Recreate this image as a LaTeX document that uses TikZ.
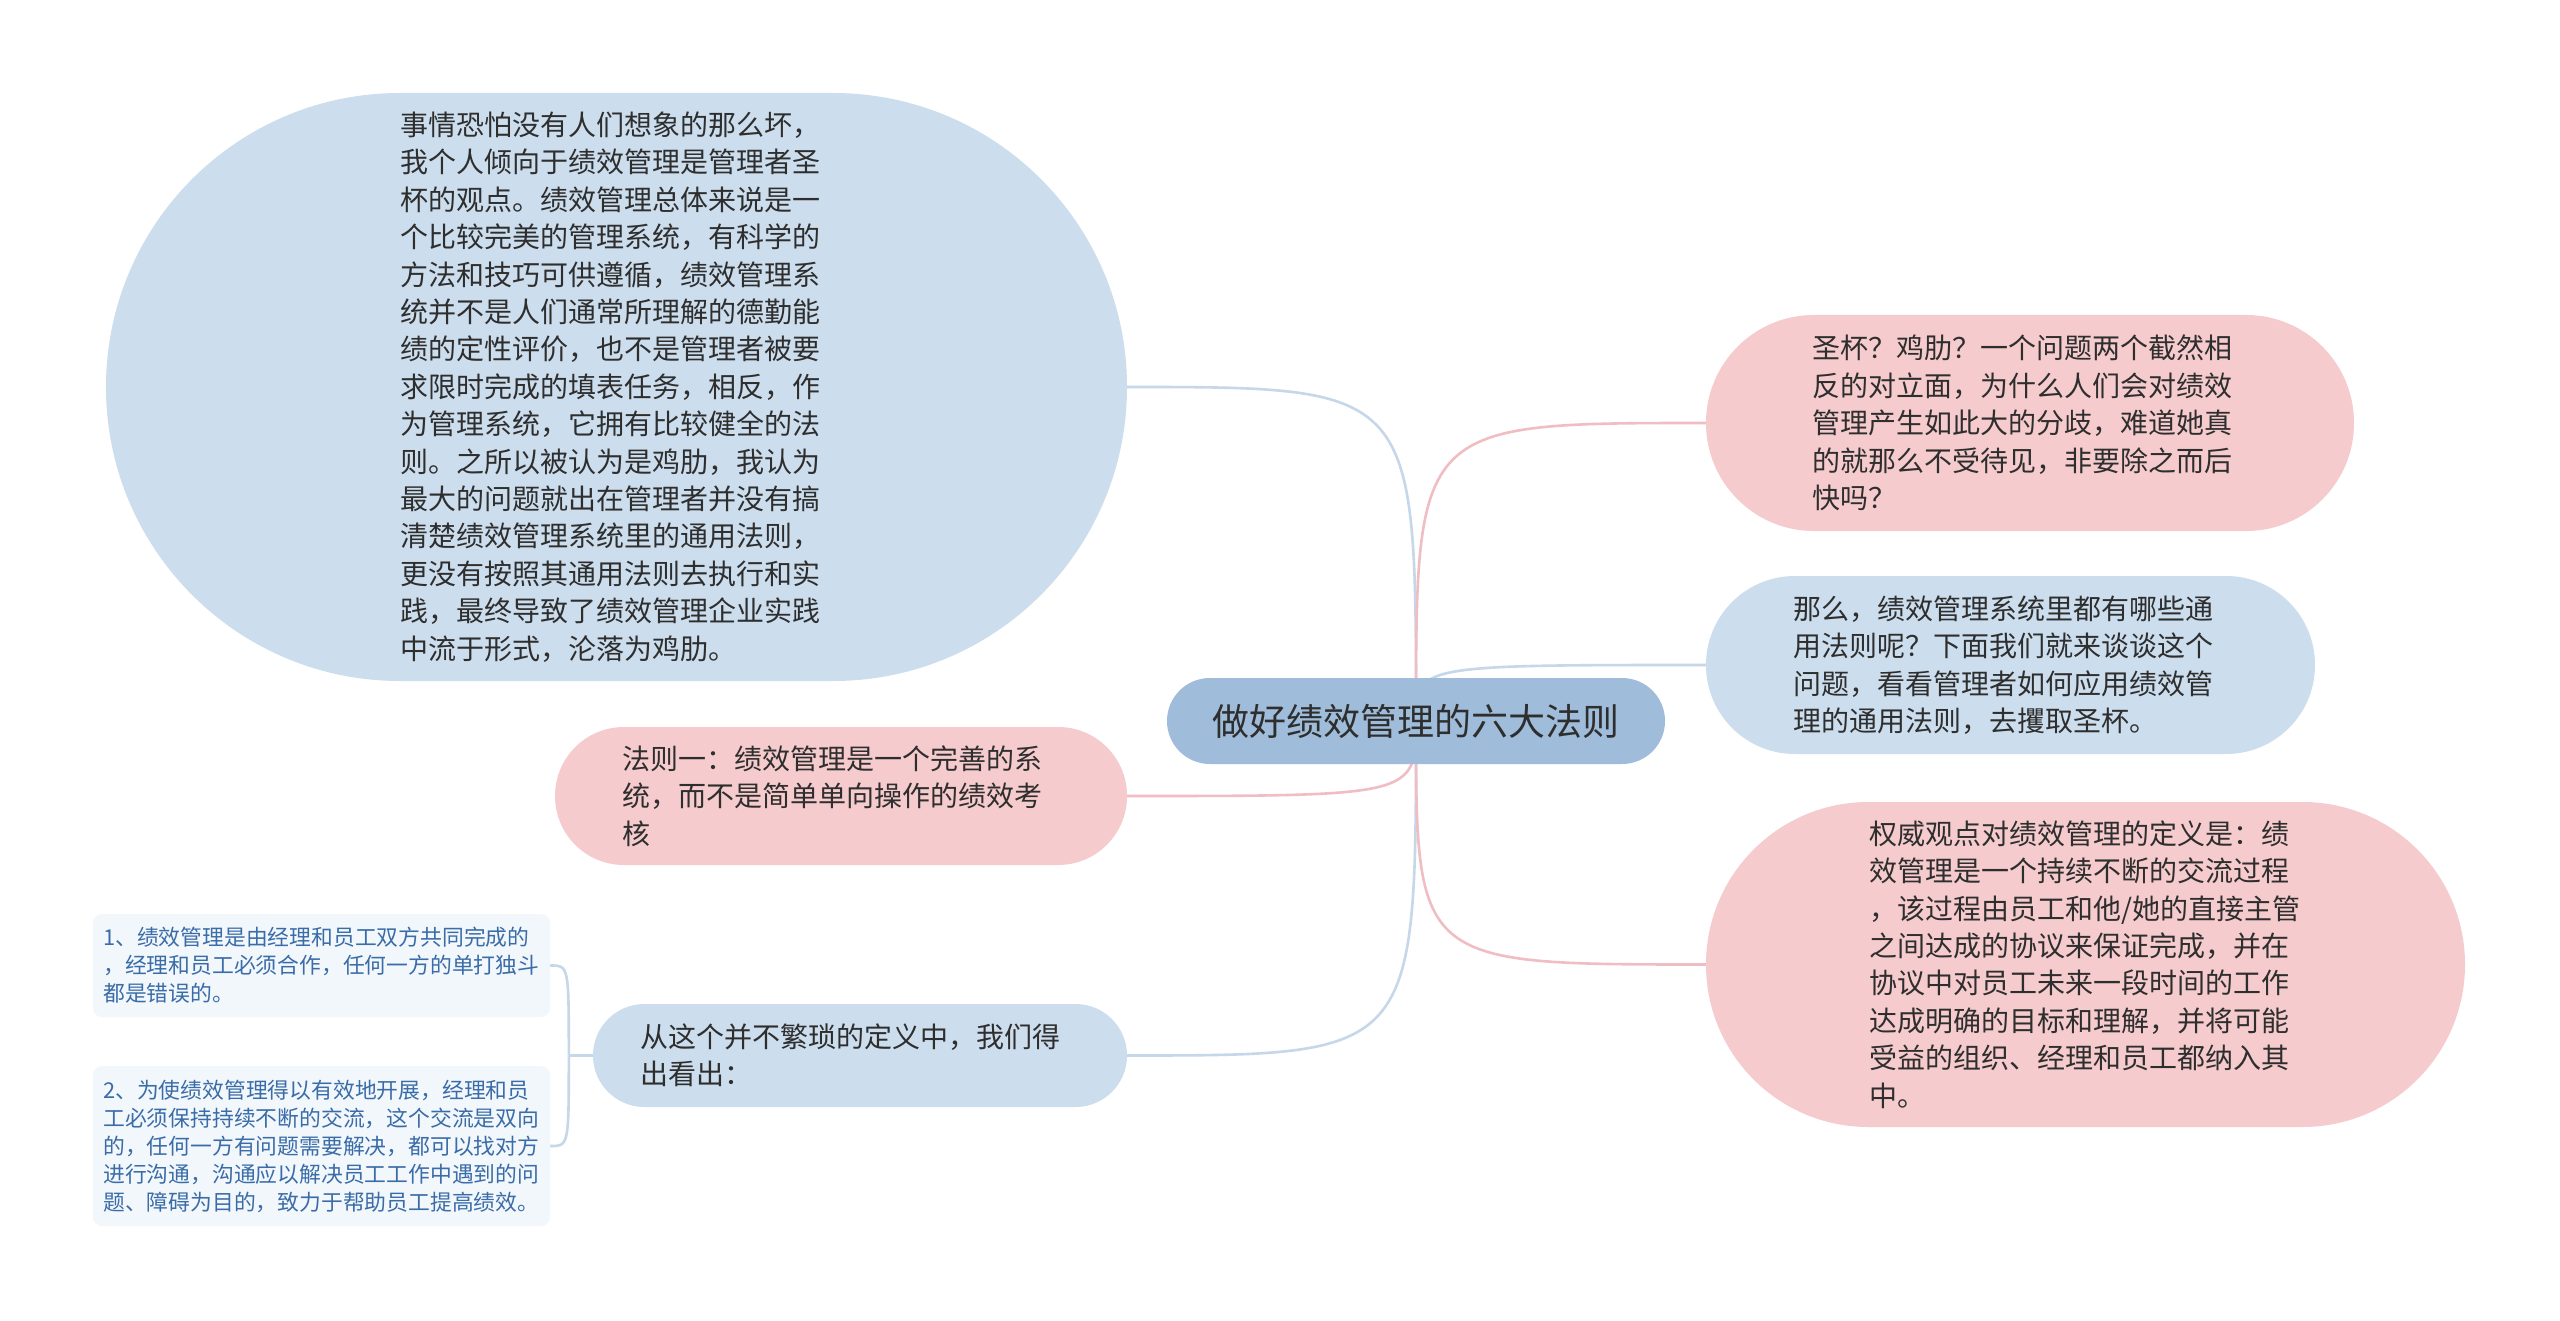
\documentclass[tikz,border=0pt]{standalone}
\usepackage{fontspec}
\newfontfamily\cjk{Noto Sans CJK SC}
\definecolor{centc}{HTML}{9FBDDA}
\definecolor{bluec}{HTML}{CCDDED}
\definecolor{pinkc}{HTML}{F5CBCD}
\definecolor{leafc}{HTML}{F2F7FC}
\definecolor{leaftxt}{HTML}{3A6CA8}
\definecolor{txtc}{HTML}{2E2E2E}
\definecolor{lineblue}{HTML}{C6D7E9}
\definecolor{linepink}{HTML}{F0BDC2}
\pgfdeclarelayer{bg}
\pgfsetlayers{bg,main}
\begin{document}
\begin{tikzpicture}[x=1pt,y=-1pt,
  bubble/.style={rectangle, inner sep=0pt, draw=none},
  txt/.style={anchor=west, inner sep=0pt, align=left, text=txtc, font=\cjk\fontsize{28}{37.4}\selectfont},
  leaftext/.style={anchor=west, inner sep=0pt, align=left, text=leaftxt, font=\cjk\fontsize{21.8}{28}\selectfont},
  bconn/.style={draw=lineblue, line width=2.6pt},
  pconn/.style={draw=linepink, line width=2.6pt}]
\useasboundingbox (0,0) rectangle (2560,1321);

% central
\node[bubble, fill=centc, minimum width=498pt, minimum height=86pt, rounded corners=42.9pt,
  text=txtc, font=\cjk\fontsize{37}{44}\selectfont] (cen) at (1416,721) {做好绩效管理的六大法则};

% left big blob
\node[bubble, fill=bluec, minimum width=1021pt, minimum height=588pt, rounded corners=293.9pt] (blob) at (616.5,387) {};
\node[txt] (blobt) at (400,387) {事情恐怕没有人们想象的那么坏，\\我个人倾向于绩效管理是管理者圣\\杯的观点。绩效管理总体来说是一\\个比较完美的管理系统，有科学的\\方法和技巧可供遵循，绩效管理系\\统并不是人们通常所理解的德勤能\\绩的定性评价，也不是管理者被要\\求限时完成的填表任务，相反，作\\为管理系统，它拥有比较健全的法\\则。之所以被认为是鸡肋，我认为\\最大的问题就出在管理者并没有搞\\清楚绩效管理系统里的通用法则，\\更没有按照其通用法则去执行和实\\践，最终导致了绩效管理企业实践\\中流于形式，沦落为鸡肋。};

% law one
\node[bubble, fill=pinkc, minimum width=572pt, minimum height=138pt, rounded corners=68.9pt] (law) at (841,796) {};
\node[txt] (lawt) at (622,796) {法则一：绩效管理是一个完善的系\\统，而不是简单单向操作的绩效考\\核};

% conclusion
\node[bubble, fill=bluec, minimum width=534pt, minimum height=103pt, rounded corners=51.4pt] (concl) at (860,1055.5) {};
\node[txt] (conclt) at (640,1055.5) {从这个并不繁琐的定义中，我们得\\出看出：};

% leaves
\node[bubble, fill=leafc, minimum width=457pt, minimum height=103pt, rounded corners=9pt] (leaf1) at (321.5,965.5) {};
\node[leaftext] (leaf1t) at (103,965.5) {1、绩效管理是由经理和员工双方共同完成的\\，经理和员工必须合作，任何一方的单打独斗\\都是错误的。};
\node[bubble, fill=leafc, minimum width=457pt, minimum height=160pt, rounded corners=9pt] (leaf2) at (321.5,1146) {};
\node[leaftext] (leaf2t) at (103,1146) {2、为使绩效管理得以有效地开展，经理和员\\工必须保持持续不断的交流，这个交流是双向\\的，任何一方有问题需要解决，都可以找对方\\进行沟通，沟通应以解决员工工作中遇到的问\\题、障碍为目的，致力于帮助员工提高绩效。};

% right pink 1
\node[bubble, fill=pinkc, minimum width=648pt, minimum height=216pt, rounded corners=107.9pt] (p1) at (2030,423) {};
\node[txt] (p1t) at (1812,423) {圣杯？鸡肋？一个问题两个截然相\\反的对立面，为什么人们会对绩效\\管理产生如此大的分歧，难道她真\\的就那么不受待见，非要除之而后\\快吗？};

% right blue 2
\node[bubble, fill=bluec, minimum width=609pt, minimum height=178pt, rounded corners=88.9pt] (b2) at (2010.5,665) {};
\node[txt] (b2t) at (1793,665) {那么，绩效管理系统里都有哪些通\\用法则呢？下面我们就来谈谈这个\\问题，看看管理者如何应用绩效管\\理的通用法则，去攫取圣杯。};

% right pink 3
\node[bubble, fill=pinkc, minimum width=759pt, minimum height=325pt, rounded corners=162.4pt] (p3) at (2085.5,964.5) {};
\node[txt] (p3t) at (1869,964.5) {权威观点对绩效管理的定义是：绩\\效管理是一个持续不断的交流过程\\，该过程由员工和他/她的直接主管\\之间达成的协议来保证完成，并在\\协议中对员工未来一段时间的工作\\达成明确的目标和理解，并将可能\\受益的组织、经理和员工都纳入其\\中。};

\coordinate (j) at ([xshift=-24pt]concl.west);

\begin{pgfonlayer}{bg}
\fill[white] (0,0) rectangle (2560,1321);
\draw[bconn] (cen.center) .. controls (cen.center |- blob.east) .. (blob.east);
\draw[pconn] (cen.center) .. controls (cen.center |- law.east) .. (law.east);
\draw[bconn] (cen.center) .. controls (cen.center |- concl.east) .. (concl.east);
\draw[pconn] (cen.center) .. controls (cen.center |- p1.west) .. (p1.west);
\draw[bconn] (cen.center) .. controls (cen.center |- b2.west) .. (b2.west);
\draw[pconn] (cen.center) .. controls (cen.center |- p3.west) .. (p3.west);
\draw[bconn] (concl.west) -- (j);
\draw[bconn] (j) .. controls (j |- leaf1.east) .. (leaf1.east);
\draw[bconn] (j) .. controls (j |- leaf2.east) .. (leaf2.east);
\end{pgfonlayer}
\end{tikzpicture}
\end{document}
